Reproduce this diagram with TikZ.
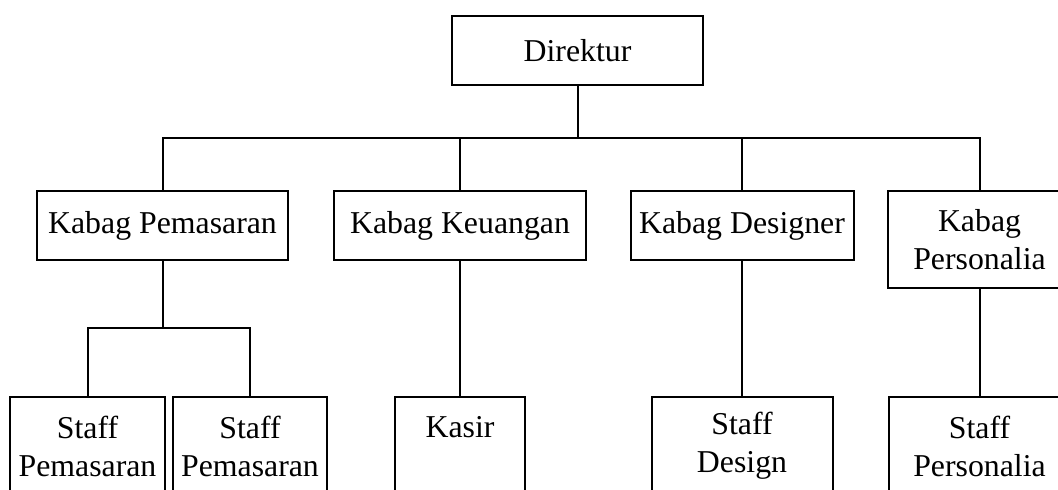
\documentclass[tikz,border=0pt]{standalone}
\usepackage{fontspec}
\setmainfont{Liberation Serif}
\usepackage{tikz}
\usetikzlibrary{positioning}

\begin{document}
\begin{tikzpicture}[x=0.5pt,y=-0.5pt,
        box/.style={rectangle, draw, line width=1pt, inner sep=0pt, align=center,
            font=\fontsize{15.9}{19}\selectfont},
        line/.style={line width=1pt}]
        \useasboundingbox (0,0) rectangle (1058,490);
        \clip (0,0) rectangle (1058,490);
        % Nodes
        \node (dir) at (577.5,50.5) [box, minimum width=125.5pt, minimum height=34.5pt] {Direktur};
        \node (kp) at (162.5,225.5) [box, minimum width=125.5pt, minimum height=34.5pt] {Kabag Pemasaran};
        \node (kk) at (460,225.5) [box, minimum width=126pt, minimum height=34.5pt] {Kabag Keuangan};
        \node (kd) at (742,225.5) [box, minimum width=111.5pt, minimum height=34.5pt] {Kabag Designer};
        \node (kper) at (979.5,239.5) [box, minimum width=92pt, minimum height=48.5pt] {Kabag\\Personalia};
        % Lower nodes
        \node (sp1) at (87.5,446) [box, minimum width=77.5pt, minimum height=49pt] {Staff\\Pemasaran};
        \node (sp2) at (250,446) [box, minimum width=77pt, minimum height=49pt] {Staff\\Pemasaran};
        \node (kasir) at (460,446) [box, minimum width=65pt, minimum height=49pt] {Kasir\\\mbox{}};
        \node (sd) at (742,446) [box, minimum width=90.5pt, minimum height=49pt] {Staff\\\smash{Design}\vphantom{p}};
        \node (sper) at (979.5,446) [box, minimum width=91pt, minimum height=49pt] {Staff\\Personalia};
        
        % Edges
        \coordinate (bus) at (dir.south |- 0,138);
        \draw[line] (dir.south) -- (bus);
        \foreach \n in {kp,kk,kd,kper} {
            \draw[line] (bus) -| (\n.north);
        }
        \coordinate (pbus) at (kp.south |- 0,328);
        \draw[line] (kp.south) -- (pbus);
        \foreach \n in {sp1,sp2} {
            \draw[line] (pbus) -| (\n.north);
        }
        
        \draw[line] (kk) -- (kasir);
        \draw[line] (kd) -- (sd);
        \draw[line] (kper) -- (sper);
    \end{tikzpicture}
\end{document}
